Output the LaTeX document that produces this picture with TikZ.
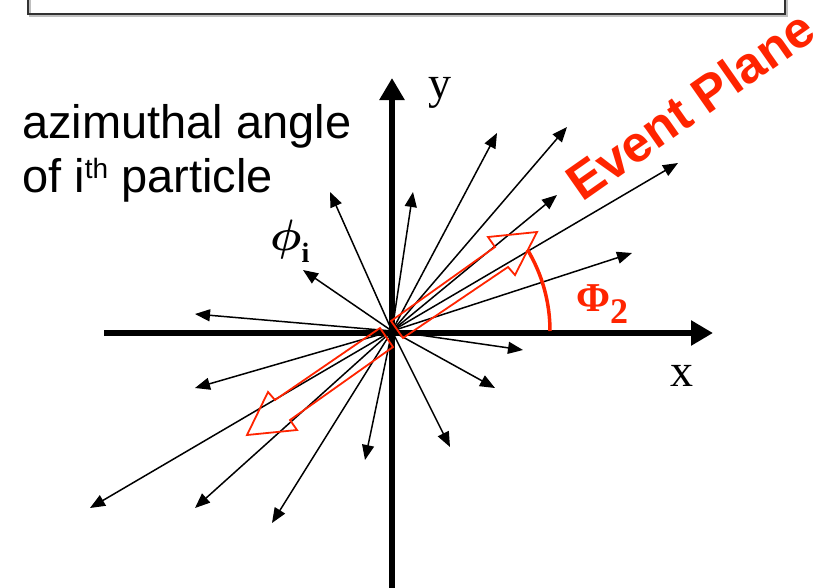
\documentclass[tikz,border=0pt]{standalone}
\usepackage{xcolor}
\definecolor{epred}{RGB}{255,36,0}
\definecolor{boxgray}{RGB}{50,50,50}
\usepackage{fontspec}
\setmainfont{Liberation Serif}
\newfontfamily\arialfont{Liberation Sans}
\usepackage{graphicx}
\usepackage{bm}
\usepackage{tikz}
\usetikzlibrary{arrows.meta}
\begin{document}
\begin{tikzpicture}[
  x=1pt, y=-1pt,
  axis/.style={line width=6pt, -{Triangle[length=22pt,width=24pt]}},
  particle/.style={line width=1.5pt, -{Triangle[length=15pt,width=12pt]}},
  planearrow/.style={draw=epred, line width=1.8pt, line join=miter},
  phiarc/.style={epred, line width=3.5pt},
  lbl/.style={inner sep=0pt, font=\arialfont\fontsize{47}{54}\selectfont},
  axlbl/.style={inner sep=0pt, font=\fontsize{46}{50}\selectfont}]
  \useasboundingbox (0,0) rectangle (827,587);
  % frame cut by the top edge
  \draw[black!25, line width=2pt] (30,-10) rectangle (787,16);
  \draw[boxgray, line width=2pt] (28,-10) rectangle (785,14);
  % axes
  \coordinate (o) at (392,331);
  \coordinate (xl) at (104,333);
  \coordinate (xr) at (713,333);
  \coordinate (yb) at (392,592);
  \coordinate (yt) at (392,78);
  \draw[axis] (xl) -- (xr);
  \draw[axis] (yb) -- (yt);
  \node[axlbl, anchor=base west] (ylab) at (428,98) {y};
  \node[axlbl, anchor=base west] (xlab) at (670,386) {x};
  % particles
  \foreach \tx/\ty [count=\i] in {330/192, 303/270, 413/192, 497/133, 567/127,
      557/195, 678/163, 632/253, 195/314, 523/350, 495/388, 450/447,
      365/460, 272/523, 195/508, 90/508, 195/388}
    {\coordinate (p\i) at (\tx,\ty);
     \draw[particle] (o) -- (p\i);}
  % event plane double arrow
  \draw[planearrow] (391,321) -- (495,247) -- (488,237) -- (537,232)
    -- (515,275) -- (508,267) -- (403,338) -- cycle;
  \draw[planearrow] (380,328) -- (275,400) -- (268,392) -- (247,435)
    -- (297,430) -- (290,420) -- (393,347) -- cycle;
  \draw[phiarc] (o) ++(158,0) arc[start angle=0, end angle=-31, radius=158];
  % labels
  \node[lbl, anchor=base west] (az) at (22,138) {azimuthal angle};
  \node[lbl, anchor=base west] (ith) at (22,192) {of i\raisebox{14pt}{\fontsize{28}{28}\selectfont th} particle};
  \node[inner sep=0pt, anchor=base west] (phii) at (270,250)
    {\scalebox{4.4}{$\bm{\phi}$}\raisebox{-12pt}{\fontsize{28}{28}\selectfont\bfseries i}};
  \node[inner sep=0pt, anchor=base west, text=epred] (Phi2) at (576,311)
    {\fontsize{41}{45}\selectfont\bfseries Φ\raisebox{-12pt}{\fontsize{36}{36}\selectfont 2}};
  \node[inner sep=0pt, anchor=base west, rotate=35, text=epred,
    font=\arialfont\bfseries\fontsize{51}{56}\selectfont] (ep) at (582,203) {Event Plane};
\end{tikzpicture}
\end{document}
